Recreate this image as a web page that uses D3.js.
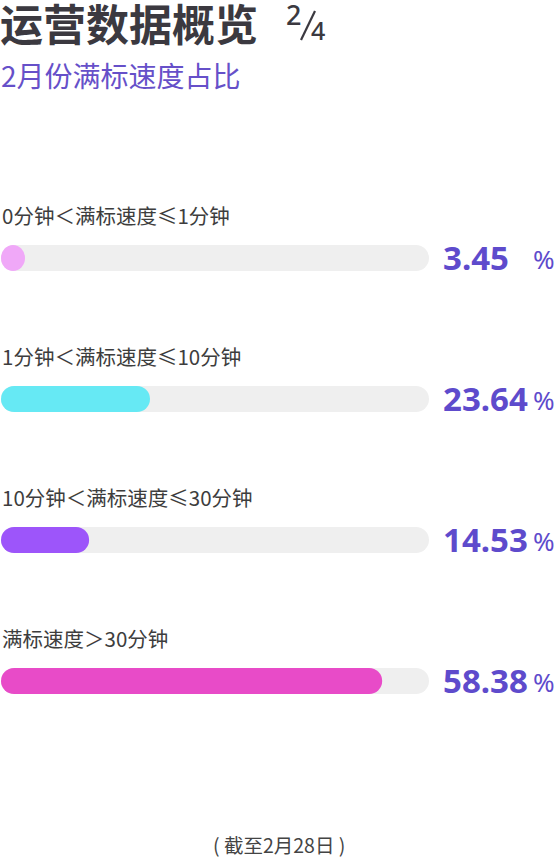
<!DOCTYPE html>
<html>
<head>
<meta charset="utf-8">
<script src="https://cdn.jsdelivr.net/npm/d3@7/dist/d3.min.js"></script>
<style>
  html, body { margin: 0; padding: 0; background: #ffffff; }
  svg { display: block; }
</style>
</head>
<body>
<svg id="chart" width="555" height="858"></svg>
<script>
const categories = [
  "0分钟＜满标速度≤1分钟",
  "1分钟＜满标速度≤10分钟",
  "10分钟＜满标速度≤30分钟",
  "满标速度＞30分钟"
];
const values = [3.45, 23.64, 14.53, 58.38];
const barColors = ["#f0a8f8", "#66e9f4", "#9d55fa", "#e84bc8"];
const titleText = "运营数据概览";
const pageNum = "2";
const pageTotal = "4";
const subtitleText = "2月份满标速度占比";
const footerText = "( 截至2月28日 )";

const W = 555, H = 858;
const svg = d3.select("#chart");
const cjk = "'Noto Sans CJK SC', 'Noto Sans', sans-serif";
const latin = "'Noto Sans', 'Open Sans', sans-serif";

// Title
svg.append("text").attr("x", 0).attr("y", 41)
  .attr("font-family", cjk).attr("font-weight", 700).attr("font-size", 43)
  .attr("fill", "#3b3940").text(titleText);
svg.append("text").attr("x", 286).attr("y", 25)
  .attr("font-family", latin).attr("font-weight", 500).attr("font-size", 27)
  .attr("fill", "#3b3940").text(pageNum);
svg.append("line").attr("x1", 315).attr("y1", 11).attr("x2", 301).attr("y2", 40)
  .attr("stroke", "#3b3940").attr("stroke-width", 2.2);
svg.append("text").attr("x", 311).attr("y", 40)
  .attr("font-family", latin).attr("font-weight", 500).attr("font-size", 25)
  .attr("fill", "#3b3940").text(pageTotal);

// Subtitle
svg.append("text").attr("x", 1).attr("y", 87)
  .attr("font-family", cjk).attr("font-size", 28)
  .attr("fill", "#6650c9").text(subtitleText);

// Scales
const y = d3.scaleBand().domain(categories).range([245, 245 + 141 * 4]).paddingInner(0).paddingOuter(0);
const x = d3.scaleLinear().domain([0, 60]).range([-9, 392]);
const trackX = 1, trackW = 428, barH = 26;

const rows = svg.selectAll("g.row").data(categories.map((c, i) => ({c, v: values[i], col: barColors[i]})))
  .enter().append("g").attr("class", "row")
  .attr("transform", d => `translate(0,${y(d.c)})`);

rows.append("text").attr("x", 2).attr("y", -21)
  .attr("font-family", cjk).attr("font-size", 20.5)
  .attr("fill", "#3d3d3d").text(d => d.c);

rows.append("rect").attr("x", trackX).attr("y", 0)
  .attr("width", trackW).attr("height", barH)
  .attr("rx", barH / 2).attr("ry", barH / 2).attr("fill", "#efefef");

rows.append("rect").attr("x", trackX).attr("y", 0)
  .attr("width", d => Math.max(x(d.v), 24)).attr("height", barH)
  .attr("rx", barH / 2).attr("ry", barH / 2).attr("fill", d => d.col);

rows.append("text").attr("x", 443).attr("y", 25)
  .attr("font-family", latin).attr("font-weight", 700).attr("font-size", 33)
  .attr("fill", "#5e4bcc").text(d => d.v.toFixed(2));

rows.append("text").attr("x", 533).attr("y", 24)
  .attr("font-family", latin).attr("font-size", 26)
  .attr("fill", "#5e4bcc").text("%");

// Footer
svg.append("text").attr("x", 213).attr("y", 853)
  .attr("font-family", cjk).attr("font-size", 19.5)
  .attr("fill", "#444444").text(footerText);
</script>
</body>
</html>
